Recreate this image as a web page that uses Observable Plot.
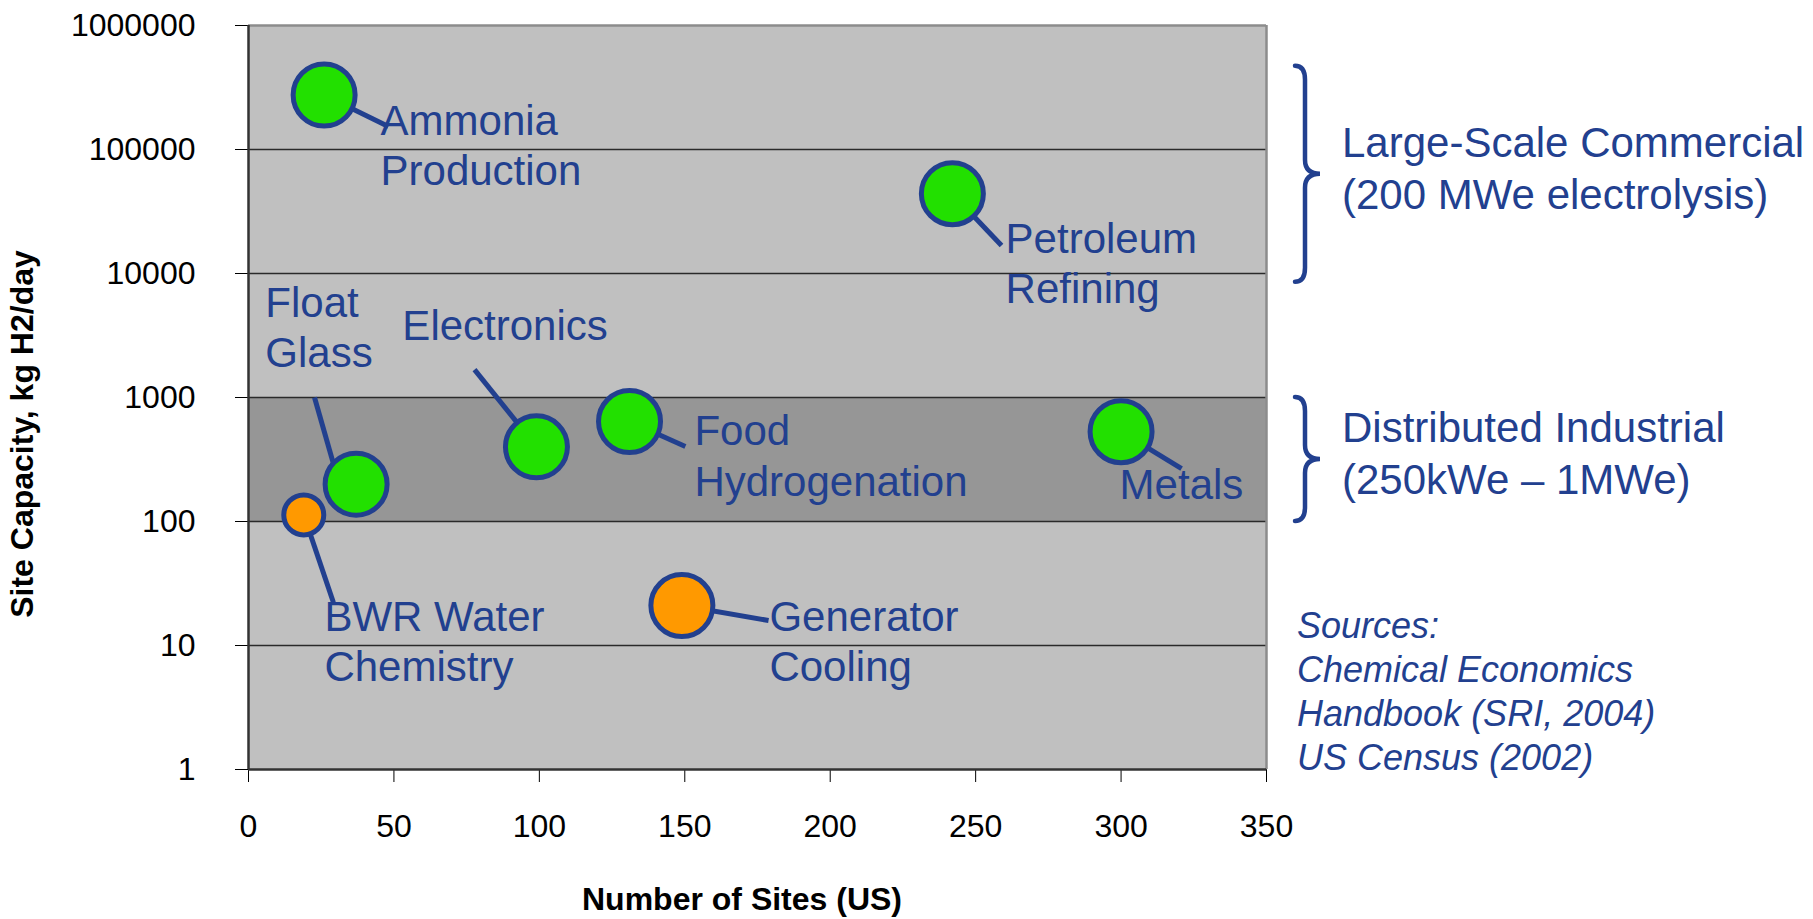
<!DOCTYPE html>
<html>
<head>
<meta charset="utf-8">
<script src="https://cdn.jsdelivr.net/npm/d3@7"></script>
<script src="https://cdn.jsdelivr.net/npm/@observablehq/plot@0.6"></script>
<style>
  html, body { margin: 0; padding: 0; background: #fff; }
  #chart svg { display: block; }
</style>
</head>
<body>
<div id="chart"></div>
<script>
// ---- data ----
const names = ["Ammonia Production", "Petroleum Refining", "Float Glass", "Electronics",
  "Food Hydrogenation", "Metals", "BWR Water Chemistry", "Generator Cooling"];
const labels = ["Ammonia\nProduction", "Petroleum\nRefining", "Float\nGlass", "Electronics",
  "Food\nHydrogenation", "Metals", "BWR Water\nChemistry", "Generator\nCooling"];
const sites = [26, 242, 37, 99, 131, 300, 19, 149];            // Number of Sites (US)
const capacity = [275000, 44000, 200, 400, 640, 530, 113, 21];  // kg H2/day
const groups = ["Industrial", "Industrial", "Industrial", "Industrial",
  "Industrial", "Industrial", "Power plant", "Power plant"];
const xTicks = [0, 50, 100, 150, 200, 250, 300, 350];
const yTicks = [1, 10, 100, 1000, 10000, 100000, 1000000];
const bands = [{lo: 100, hi: 1000}];

// annotation anchors (data units): label left / last baseline; leader-line start and end
const labelX = [45.4, 260.3, 5.8, 52.9, 153.3, 299.5, 26.1, 179.1];
const labelY = [51300, 5730, 1750, 2884, 162, 153, 5.13, 5.13];
const leaderStartX = [26, 242, 31.2, 99, 131, 300, 19, 149];
const leaderStartY = [275000, 44000, 200, 400, 640, 530, 113, 21];
const leaderEndX = [48.1, 258.9, 22.7, 77.7, 150.2, 320.8, 29.2, 178.8];
const leaderEndY = [153000, 16800, 1000, 1680, 403, 267, 22.2, 15.9];

const brackets = [
  {lo: 8500, hi: 470000, lines: ["Large-Scale Commercial", "(200 MWe electrolysis)"]},
  {lo: 100, hi: 1000, lines: ["Distributed Industrial", "(250kWe \u2013 1MWe)"]}
];
const sources = ["Sources:", "Chemical Economics", "Handbook (SRI, 2004)", "US Census (2002)"];
const xTitle = "Number of Sites (US)";
const yTitle = "Site Capacity, kg H2/day";

// ---- table ----
const rows = names.map((name, i) => ({
  name, label: labels[i], sites: sites[i], capacity: capacity[i], group: groups[i],
  lx: labelX[i], ly: labelY[i],
  sx: leaderStartX[i], sy: leaderStartY[i], ex: leaderEndX[i], ey: leaderEndY[i]
}));

const FONT = "'Liberation Sans', Arial, Helvetica, sans-serif";
const BLUE = "#22408F";
const smallMarker = new Set(["BWR Water Chemistry"]);

const chart = Plot.plot({
  width: 1813,
  height: 919,
  marginLeft: 248,
  marginRight: 547,
  marginTop: 25,
  marginBottom: 150,
  style: {fontFamily: FONT, fontSize: "32px", color: "#000", background: "#fff", overflow: "visible"},
  x: {domain: [0, 350], ticks: xTicks, tickSize: 13, tickPadding: 32, tickFormat: d => String(d), label: null},
  y: {type: "log", domain: [1, 1e6], ticks: yTicks, tickSize: 13, tickPadding: 40, tickFormat: d => String(d), label: null},
  color: {domain: ["Industrial", "Power plant"], range: ["#22E000", "#FF9900"]},
  marks: [
    Plot.frame({fill: "#C0C0C0", stroke: "none"}),
    Plot.rect(bands, {x1: () => 0, x2: () => 350, y1: "lo", y2: "hi", fill: "#969696"}),
    Plot.ruleY(yTicks.slice(1, -1), {stroke: "#2a2a2a", strokeWidth: 1.5}),
    Plot.ruleY([1e6], {stroke: "#8c8c8c", strokeWidth: 2.5}),
    Plot.ruleX([350], {stroke: "#8c8c8c", strokeWidth: 2.5}),
    Plot.ruleX([0], {stroke: "#333", strokeWidth: 2.5}),
    Plot.ruleY([1], {stroke: "#333", strokeWidth: 2.5}),
    Plot.link(rows, {x1: "sx", y1: "sy", x2: "ex", y2: "ey", stroke: BLUE, strokeWidth: 5}),
    Plot.dot(rows.filter(d => !smallMarker.has(d.name)), {x: "sites", y: "capacity", r: 31, fill: "group", stroke: BLUE, strokeWidth: 5}),
    Plot.dot(rows.filter(d => smallMarker.has(d.name)), {x: "sites", y: "capacity", r: 20, fill: "group", stroke: BLUE, strokeWidth: 5}),
    Plot.text(rows, {x: "lx", y: "ly", text: "label", textAnchor: "start", lineAnchor: "bottom",
      lineHeight: 1.21, fontSize: 42, fill: BLUE, fontFamily: FONT})
  ]
});

document.getElementById("chart").appendChild(chart);

// ---- annotations outside the plot area ----
const svgSel = d3.select(chart.tagName.toLowerCase() === "svg" ? chart : chart.querySelector("svg"));
const yScaleDesc = chart.scale("y"), xScaleDesc = chart.scale("x");
const yf = yScaleDesc.apply ? v => yScaleDesc.apply(v) : d3.scaleLog(yScaleDesc.domain, yScaleDesc.range);
const xf = xScaleDesc.apply ? v => xScaleDesc.apply(v) : d3.scaleLinear(xScaleDesc.domain, xScaleDesc.range);
const plotRight = xf(350), plotBottom = yf(1), plotLeft = xf(0), plotTop = yf(1e6);

function bracePath(x0, ya, yb) {
  const ym = (ya + yb) / 2, s = 10, t = 25, k = 14;
  return `M${x0},${ya} Q${x0 + s},${ya} ${x0 + s},${ya + k} L${x0 + s},${ym - k} ` +
    `Q${x0 + s},${ym} ${x0 + t},${ym} Q${x0 + s},${ym} ${x0 + s},${ym + k} ` +
    `L${x0 + s},${yb - k} Q${x0 + s},${yb} ${x0},${yb}`;
}

const ann = svgSel.append("g").attr("font-family", FONT).attr("fill", BLUE).attr("text-anchor", "start");
brackets.forEach(b => {
  const ya = yf(b.hi), yb = yf(b.lo), ym = (ya + yb) / 2;
  const x0 = plotRight + 29;
  ann.append("path").attr("d", bracePath(x0, ya, yb))
    .attr("fill", "none").attr("stroke", BLUE).attr("stroke-width", 4.5).attr("stroke-linecap", "round");
  b.lines.forEach((line, i) => {
    ann.append("text").attr("x", x0 + 47).attr("y", ym - 17 + i * 52)
      .attr("font-size", 42).text(line);
  });
});
sources.forEach((line, i) => {
  ann.append("text").attr("x", plotRight + 31).attr("y", plotBottom - 131 + i * 44)
    .attr("font-size", 36).attr("font-style", "italic").text(line);
});

const titles = svgSel.append("g").attr("font-family", FONT).attr("font-weight", "bold")
  .attr("font-size", 32).attr("fill", "#000").attr("text-anchor", "middle");
titles.append("text").attr("x", (plotLeft + plotRight) / 2 - 15).attr("y", plotBottom + 141).text(xTitle);
titles.append("text").attr("transform", `translate(33,${(plotTop + plotBottom) / 2 + 37}) rotate(-90)`).text(yTitle);
</script>
</body>
</html>
